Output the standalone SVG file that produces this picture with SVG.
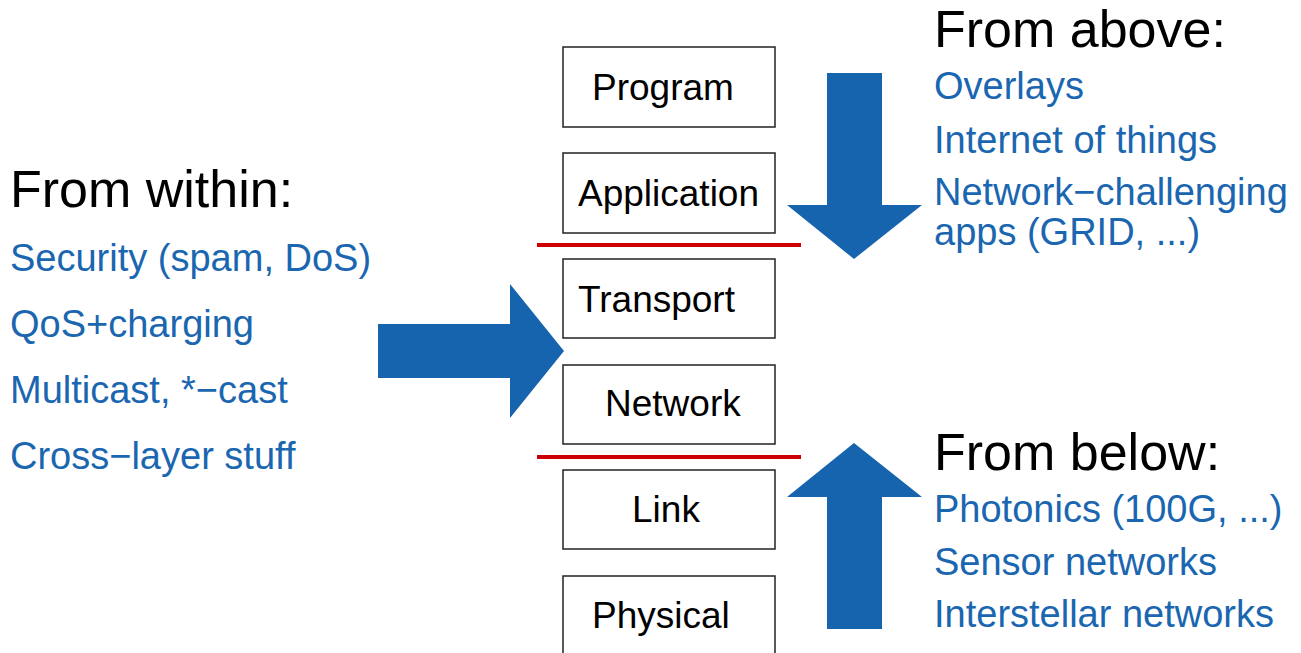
<svg xmlns="http://www.w3.org/2000/svg" width="1301" height="653" viewBox="0 0 1301 653">
<style>
.box{fill:#fff;stroke:#222;stroke-width:1.5}
.lbl{font-family:"Liberation Sans",Arial,sans-serif;font-size:37px;fill:#000}
.head{font-family:"Liberation Sans",Arial,sans-serif;font-size:52px;fill:#000}
.item{font-family:"Liberation Sans",Arial,sans-serif;font-size:38px;fill:#1a66b0}
.arrow{fill:#1764ae}
.sep{stroke:#cc0000;stroke-width:4}
</style>
<rect width="1301" height="653" fill="#fff"/>
<g id="connectors">
<path class="arrow" d="M378,324 L510,324 L510,284 L564,351 L510,418 L510,378 L378,378 Z"/>
<path class="arrow" d="M827,73 L882,73 L882,205 L922,205 L854,259 L787,205 L827,205 Z"/>
<path class="arrow" d="M827,629 L882,629 L882,497 L922,497 L854,443 L787,497 L827,497 Z"/>
<line class="sep" x1="537" y1="245" x2="801" y2="245"/>
<line class="sep" x1="537" y1="457" x2="801" y2="457"/>
</g>
<g id="program"><rect class="box" x="563" y="47" width="212" height="80"/><text class="lbl" x="592" y="100">Program</text></g>
<g id="application"><rect class="box" x="563" y="153" width="212" height="80"/><text class="lbl" x="578" y="206">Application</text></g>
<g id="transport"><rect class="box" x="563" y="259" width="212" height="79"/><text class="lbl" x="578" y="312">Transport</text></g>
<g id="network"><rect class="box" x="563" y="365" width="212" height="79"/><text class="lbl" x="605" y="416">Network</text></g>
<g id="link"><rect class="box" x="563" y="470" width="212" height="79"/><text class="lbl" x="632" y="522">Link</text></g>
<g id="physical"><rect class="box" x="563" y="576" width="212" height="79"/><text class="lbl" x="592" y="628">Physical</text></g>
<g id="within">
<text class="head" x="10" y="207">From within:</text>
<text class="item" x="10" y="271">Security (spam, DoS)</text>
<text class="item" x="10" y="337">QoS+charging</text>
<text class="item" x="10" y="403">Multicast, *−cast</text>
<text class="item" x="10" y="469">Cross−layer stuff</text>
</g>
<g id="above">
<text class="head" x="934" y="47">From above:</text>
<text class="item" x="934" y="99">Overlays</text>
<text class="item" x="934" y="153">Internet of things</text>
<text class="item" x="934" y="205">Network−challenging</text>
<text class="item" x="934" y="245">apps (GRID, ...)</text>
</g>
<g id="below">
<text class="head" x="934" y="470">From below:</text>
<text class="item" x="934" y="522">Photonics (100G, ...)</text>
<text class="item" x="934" y="575">Sensor networks</text>
<text class="item" x="934" y="627">Interstellar networks</text>
</g>
</svg>
